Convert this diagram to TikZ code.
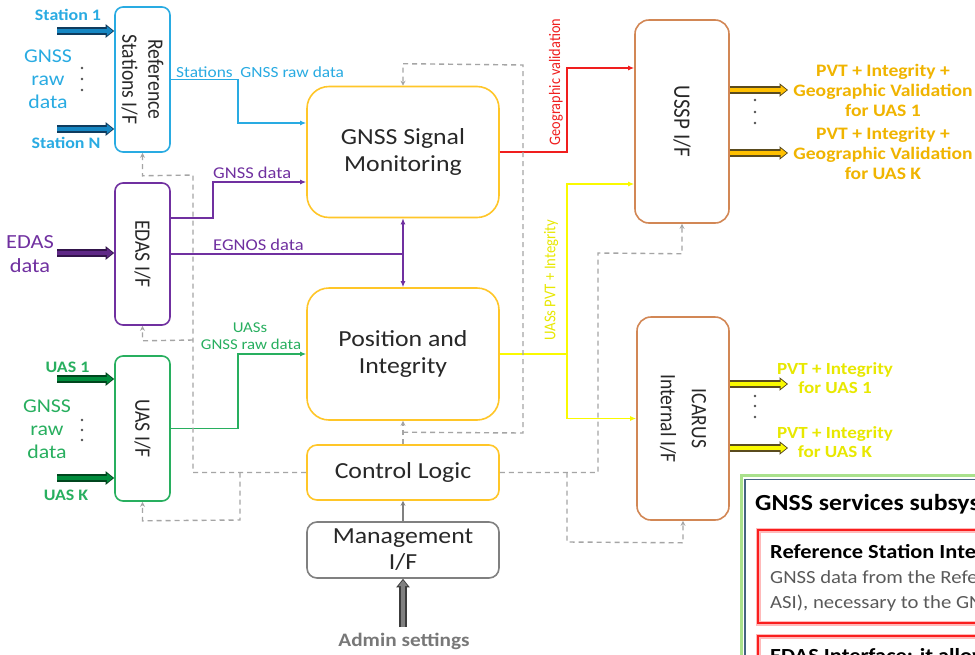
\documentclass[tikz,border=0pt]{standalone}
\usepackage{fontspec}
\setmainfont{Carlito}[FakeStretch=1.12]
\newfontfamily\rotfont{Carlito}[FakeStretch=0.893]
\usetikzlibrary{arrows.meta,calc}

\definecolor{refblue}{RGB}{41,171,226}
\definecolor{refdark}{RGB}{22,135,195}
\definecolor{refline}{RGB}{15,60,95}
\definecolor{edaspurple}{RGB}{112,48,160}
\definecolor{edasdark}{RGB}{95,40,135}
\definecolor{edasline}{RGB}{50,20,75}
\definecolor{uasgreen}{RGB}{40,175,95}
\definecolor{uasdark}{RGB}{0,140,60}
\definecolor{uasline}{RGB}{0,70,30}
\definecolor{boxgold}{RGB}{255,198,40}
\definecolor{sspbrown}{RGB}{210,135,85}
\definecolor{sigred}{RGB}{240,30,30}
\definecolor{pvtyellow}{RGB}{250,250,0}
\definecolor{pvttext}{RGB}{232,232,0}
\definecolor{outgold}{RGB}{240,180,0}
\definecolor{outfill}{RGB}{255,192,0}
\definecolor{outline}{RGB}{90,75,30}
\definecolor{ctlgray}{RGB}{165,165,165}
\definecolor{mgmtgray}{RGB}{128,128,128}
\definecolor{admfill}{RGB}{128,128,128}
\definecolor{admline}{RGB}{60,60,60}
\definecolor{admtext}{RGB}{120,120,120}
\definecolor{txtdark}{RGB}{40,40,40}
\definecolor{dotgray}{RGB}{80,80,80}
\definecolor{lgreen}{RGB}{170,225,140}
\definecolor{lslate}{RGB}{70,100,130}
\definecolor{legred}{RGB}{250,30,30}
\definecolor{pinkglow}{RGB}{255,185,185}
\definecolor{bodygray}{RGB}{90,90,90}

\newcommand\setfs[2]{\fontsize{#1}{#2}\selectfont}

\tikzset{
  blk/.style={draw=#1, line width=1.6pt, fill=white, inner sep=0pt},
  txt/.style={inner sep=0pt, align=center, text=txtdark},
  sig/.style={draw=#1, line width=1.6pt, -{Latex[length=6pt,width=5pt]}},
  wire/.style={draw=#1, line width=1.6pt},
  ctl/.style={draw=ctlgray, line width=1.4pt, dash pattern=on 5pt off 4pt},
  ctlarr/.style={ctl, -{Stealth[length=5pt,width=5pt]}},
  fat/.style 2 args={draw=#1, line width=4.5pt, -{Triangle[length=6pt,width=9pt]}, shorten >=1.4pt,
    preaction={draw=#2, line width=7.5pt, shorten >=0pt, -{Triangle[length=8.5pt,width=13pt]}}},
  dot/.style={fill=#1, circle, inner sep=0pt, minimum size=2.8pt}
}

\begin{document}
\begin{tikzpicture}[x=1pt,y=-1pt]
\useasboundingbox (0,0) rectangle (975,654);
\clip (0,0) rectangle (975,654);
\fill[white] (0,0) rectangle (975,654);

% ---------- interface blocks ----------
\node[blk=refblue, rounded corners=8pt, minimum width=55pt, minimum height=145pt] (ref) at (142.5,79.5) {};
\node[blk=edaspurple, rounded corners=8pt, minimum width=55pt, minimum height=142pt] (edas) at (142.5,254) {};
\node[blk=uasgreen, rounded corners=8pt, minimum width=55pt, minimum height=145pt] (uas) at (142.5,428.5) {};
\node[txt, rotate=-90, font=\rotfont\setfs{22}{26}] (refT) at (ref.center) {Reference\\Stations I/F};
\node[txt, rotate=-90, font=\rotfont\setfs{22}{26}] (edasT) at (edas.center) {EDAS I/F};
\node[txt, rotate=-90, font=\rotfont\setfs{22}{26}] (uasT) at (uas.center) {UAS I/F};

% ---------- processing blocks ----------
\node[blk=boxgold, rounded corners=22pt, minimum width=192pt, minimum height=131pt,
      txt, font=\setfs{23}{27}] (gsm) at (403,152) {GNSS Signal\\Monitoring};
\node[blk=boxgold, rounded corners=22pt, minimum width=192pt, minimum height=132pt,
      txt, font=\setfs{23}{27}] (pi) at (403,354) {Position and\\Integrity};
\node[blk=boxgold, rounded corners=10pt, minimum width=192pt, minimum height=55pt,
      txt, font=\setfs{23}{27}] (cl) at (403,472.5) {Control Logic};
\node[blk=mgmtgray, rounded corners=10pt, minimum width=192pt, minimum height=56pt,
      txt, font=\setfs{23}{26}] (mgmt) at (403,550) {Management\\I/F};

% ---------- output interfaces ----------
\node[blk=sspbrown, rounded corners=14pt, minimum width=94pt, minimum height=203pt] (ussp) at (682,121.5) {};
\node[blk=sspbrown, rounded corners=14pt, minimum width=92pt, minimum height=203pt] (icarus) at (683,418.5) {};
\node[txt, rotate=-90, font=\rotfont\setfs{23.5}{28}] (usspT) at (ussp.center) {USSP I/F};
\node[txt, rotate=-90, font=\rotfont\setfs{22}{31}] (icarusT) at (icarus.center) {ICARUS\\Internal I/F};

% ---------- data connectors ----------
\draw[sig=refblue] (ref.east) -- (238,79.5) -- (238,123) -- ($(gsm.west)+(0,-29)$);
\node[txt, text=refblue, font=\setfs{15.5}{18}, anchor=base west] (refL) at (176,77) {Stations\ \ GNSS raw data};

\draw[sig=edaspurple] ($(edas.east)+(0,-36)$) -- (213,218) -- (213,182) -- ($(gsm.west)+(0,30)$);
\node[txt, text=edaspurple, font=\setfs{16.5}{20}, anchor=base west] (gdL) at (213,178) {GNSS data};
\coordinate (egn) at (403,254);
\draw[wire=edaspurple] (edas.east) -- (egn);
\draw[sig=edaspurple] (egn) -- (gsm.south);
\draw[sig=edaspurple] (egn) -- (pi.north);
\node[txt, text=edaspurple, font=\setfs{16.5}{20}, anchor=base west] (egL) at (213,250) {EGNOS data};

\draw[sig=uasgreen] (uas.east) -- (238,428.5) -- (238,354) -- (pi.west);
\node[txt, text=uasgreen, font=\setfs{15}{17}, anchor=base] (uasL1) at (250,332) {UASs};
\node[txt, text=uasgreen, font=\setfs{15}{17}, anchor=base] (uasL2) at (251,349) {GNSS raw data};

\draw[sig=sigred] (gsm.east) -- (567,152) -- (567,68) -- ($(ussp.west)+(0,-53.5)$);
\node[txt, text=sigred, rotate=90, font=\rotfont\setfs{16}{19}] (geoL) at (556,82) {Geographic validation};

\coordinate (yj) at (567,354);
\draw[wire=pvtyellow] (pi.east) -- (yj);
\draw[sig=pvtyellow] (yj) -- (567,184) -- ($(ussp.west)+(0,62.5)$);
\draw[sig=pvtyellow] (yj) -- (567,418.5) -- (icarus.west);
\node[txt, text=pvttext, rotate=90, font=\rotfont\setfs{16.5}{19}] (pvtL) at (551,280) {UASs PVT + Integrity};

% ---------- control connectors ----------
\draw[ctlarr] (cl.west) -- (193,472.5) -- (193,175) -- ($(ref.south)+(0,23)$) -- (ref.south);
\draw[ctlarr] (193,340) -- ($(edas.south)+(0,15)$) -- (edas.south);
\draw[ctlarr] (240,472.5) -- (240,520) -- ($(uas.south)+(0,19)$) -- (uas.south);
\draw[ctlarr] (cl.north) -- (pi.south);
\draw[ctlarr] ($(cl.north)+(0,-12)$) -- (523,433) -- (523,65) -- ($(gsm.north)+(0,-22)$) -- (gsm.north);
\draw[ctlarr] (cl.east) -- (598,472.5) -- (598,253) -- ($(ussp.south)+(0,30)$) -- (ussp.south);
\draw[ctlarr] (567,472.5) -- (567,542) -- ($(icarus.south)+(0,22)$) -- (icarus.south);
\draw[draw=mgmtgray, line width=1.2pt, -{Stealth[length=5pt,width=5pt]}] (mgmt.north) -- (cl.south);

% ---------- inputs ----------
\coordinate (s1) at (57,31);
\coordinate (sN) at (57,129);
\draw[fat={refdark}{refline}] (s1) -- (s1 -| ref.west);
\draw[fat={refdark}{refline}] (sN) -- (sN -| ref.west);
\node[txt, text=refblue, font=\bfseries\setfs{16}{19}, anchor=base] (s1L) at (68,20) {Station 1};
\node[txt, text=refblue, font=\bfseries\setfs{16}{19}, anchor=base] (sNL) at (66,148) {Station N};
\node[txt, text=refblue, font=\setfs{19.5}{23}] (refRaw) at (48,79) {GNSS\\raw\\data};
\node[dot=dotgray] (rd1) at (82,68) {};
\node[dot=dotgray] (rd2) at (82,79) {};
\node[dot=dotgray] (rd3) at (82,90) {};

\coordinate (ed) at (57,253);
\draw[fat={edasdark}{edasline}] (ed) -- (ed -| edas.west);
\node[txt, text=edaspurple, font=\setfs{20}{24}] (edL) at (30,254) {EDAS\\data};

\coordinate (u1) at (57,379);
\coordinate (uK) at (57,478);
\draw[fat={uasdark}{uasline}] (u1) -- (u1 -| uas.west);
\draw[fat={uasdark}{uasline}] (uK) -- (uK -| uas.west);
\node[txt, text=uasgreen, font=\bfseries\setfs{16}{19}, anchor=base] (u1L) at (67.5,372) {UAS 1};
\node[txt, text=uasgreen, font=\bfseries\setfs{16}{19}, anchor=base] (uKL) at (66,500) {UAS K};
\node[txt, text=uasgreen, font=\setfs{19.5}{23}] (uasRaw) at (47,429) {GNSS\\raw\\data};
\node[dot=dotgray] (ud1) at (82,420) {};
\node[dot=dotgray] (ud2) at (82,430) {};
\node[dot=dotgray] (ud3) at (82,440) {};

\coordinate (adm) at (403,627);
\draw[fat={admfill}{admline}] (adm) -- (mgmt.south);
\node[txt, text=admtext, font=\bfseries\setfs{19}{22}] (admL) at (404,641) {Admin settings};

% ---------- outputs ----------
\coordinate (o1) at (788,90);
\coordinate (oK) at (788,153);
\draw[fat={outfill}{outline}] (o1 -| ussp.east) -- (o1);
\draw[fat={outfill}{outline}] (oK -| ussp.east) -- (oK);
\node[dot=dotgray] (od1) at (755,100) {};
\node[dot=dotgray] (od2) at (755,112) {};
\node[dot=dotgray] (od3) at (755,123) {};
\node[txt, text=outgold, font=\bfseries\setfs{17.5}{20}] (o1L) at (883,90) {PVT + Integrity +\\Geographic Validation\\for UAS 1};
\node[txt, text=outgold, font=\bfseries\setfs{17.5}{20}] (oKL) at (883,153) {PVT + Integrity +\\Geographic Validation\\for UAS K};

\coordinate (i1) at (788,384);
\coordinate (iK) at (788,448);
\draw[fat={pvtyellow}{outline}] (i1 -| icarus.east) -- (i1);
\draw[fat={pvtyellow}{outline}] (iK -| icarus.east) -- (iK);
\node[dot=dotgray] (id1) at (755,396) {};
\node[dot=dotgray] (id2) at (755,406) {};
\node[dot=dotgray] (id3) at (755,417) {};
\node[txt, text=pvttext, font=\bfseries\setfs{17}{19.5}] (i1L) at (835,378) {PVT + Integrity\\for UAS 1};
\node[txt, text=pvttext, font=\bfseries\setfs{17}{19.5}] (iKL) at (835,442) {PVT + Integrity\\for UAS K};

% ---------- legend panel ----------
\draw[draw=lgreen, line width=3pt] (741.5,475.5) rectangle (1000,700);
\draw[draw=lslate, line width=1.4pt] (745,479.5) rectangle (1000,700);
\node[anchor=base west, inner sep=0pt, font=\bfseries\setfs{23}{26}] (legT) at (755,510) {GNSS services subsystem};
\draw[draw=pinkglow, line width=5pt] (758,530) rectangle (1000,623);
\draw[draw=legred, line width=2.4pt] (758,530) rectangle (1000,623);
\node[anchor=base west, inner sep=0pt, font=\bfseries\setfs{20}{24}] (rsT) at (770,558) {Reference Station Interface:};
\node[anchor=base west, inner sep=0pt, text=bodygray, font=\setfs{18.5}{25}] (rsB1) at (770,583) {GNSS data from the Reference Stations};
\node[anchor=base west, inner sep=0pt, text=bodygray, font=\setfs{18.5}{25}] (rsB2) at (770,608) {ASI), necessary to the GNSS Signal Monitoring};
\draw[draw=pinkglow, line width=5pt] (758,636) rectangle (1000,700);
\draw[draw=legred, line width=2.4pt] (758,636) rectangle (1000,700);
\node[anchor=base west, inner sep=0pt, font=\bfseries\setfs{20}{24}] (edT) at (770,662) {EDAS Interface: it allows};
\end{tikzpicture}
\end{document}
